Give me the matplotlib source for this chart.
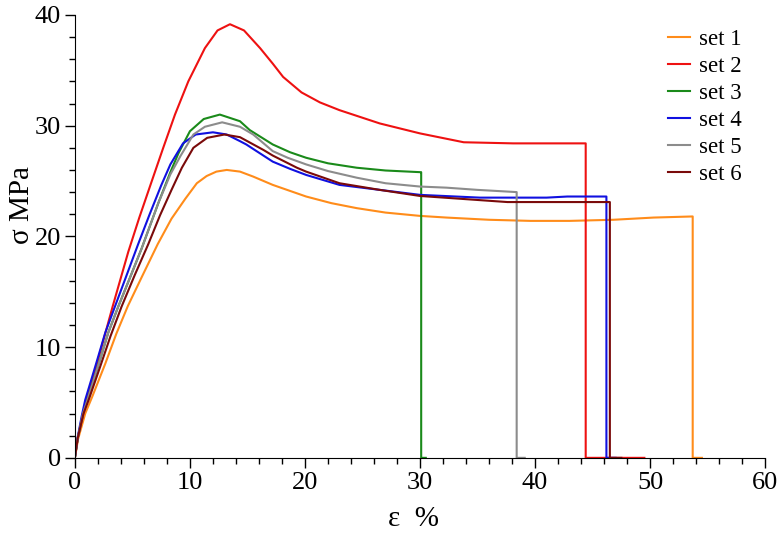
import matplotlib
matplotlib.use("Agg")
import matplotlib.pyplot as plt
from matplotlib.ticker import MultipleLocator

plt.rcParams['font.family'] = ['Liberation Serif', 'DejaVu Serif']

labels = ["set 1", "set 2", "set 3", "set 4", "set 5", "set 6"]
colors = ["#FF8C1A", "#EE1111", "#1A8A1A", "#1010E0", "#8C8C8C", "#7A0A0A"]

x1 = [0, 0.28, 0.9, 1.5, 2.64, 3.6, 4.6, 5.8, 7.2, 8.4, 9.6, 10.6, 11.45, 12.3, 13.2, 14.35, 15.5, 17.2, 20.1, 22.3, 24.5, 27.0, 30.0, 32.3, 36.0, 39.6, 43.0, 46.8, 50.3, 53.7, 53.7, 54.5]
y1 = [0, 1.7, 4.0, 5.5, 8.5, 11.2, 13.7, 16.3, 19.3, 21.6, 23.4, 24.8, 25.45, 25.85, 26.0, 25.85, 25.4, 24.65, 23.6, 23.0, 22.55, 22.15, 21.85, 21.7, 21.5, 21.4, 21.4, 21.5, 21.7, 21.8, 0, 0]

x2 = [0, 0.25, 1.0, 2.0, 3.28, 4.64, 5.6, 6.67, 7.68, 8.7, 9.86, 11.3, 12.4, 13.48, 14.7, 16.1, 17.2, 18.1, 19.7, 21.3, 23.0, 26.5, 30.0, 33.8, 38.1, 44.4, 44.4, 49.5]
y2 = [0, 1.8, 5.2, 8.8, 13.66, 18.6, 21.7, 24.95, 28.0, 31.0, 34.0, 37.0, 38.6, 39.16, 38.6, 37.0, 35.6, 34.4, 33.0, 32.1, 31.4, 30.2, 29.3, 28.5, 28.4, 28.4, 0, 0]

x3 = [0, 0.25, 0.7, 1.1, 2.0, 2.9, 3.77, 4.8, 5.8, 7.25, 8.3, 9.0, 10.0, 11.2, 12.6, 14.35, 15.2, 17.2, 18.7, 20.1, 22.0, 24.5, 27.0, 30.0, 30.1, 30.1, 30.5]
y3 = [0, 1.8, 4.0, 5.24, 8.24, 11.3, 13.66, 16.3, 18.9, 23.0, 25.8, 27.5, 29.5, 30.6, 31.0, 30.4, 29.6, 28.3, 27.6, 27.1, 26.6, 26.2, 25.95, 25.8, 25.8, 0, 0]

x4 = [0, 0.25, 0.6, 0.9, 1.77, 2.64, 3.48, 4.5, 5.5, 6.5, 7.5, 8.3, 9.4, 10.5, 12.0, 13.2, 14.35, 14.9, 17.2, 18.7, 20.1, 23.0, 26.5, 30.0, 35.2, 41.0, 42.8, 46.2, 46.2, 47.0]
y4 = [0, 1.9, 3.8, 5.24, 8.24, 11.3, 13.66, 16.5, 19.3, 22.0, 24.6, 26.5, 28.4, 29.2, 29.4, 29.2, 28.6, 28.3, 26.75, 26.1, 25.55, 24.65, 24.2, 23.75, 23.5, 23.5, 23.6, 23.6, 0, 0]

x5 = [0, 0.25, 0.7, 1.1, 2.0, 2.9, 3.77, 4.8, 5.8, 7.25, 8.3, 9.2, 10.3, 11.3, 12.8, 14.35, 15.5, 17.2, 18.5, 20.1, 22.0, 24.5, 27.0, 30.0, 32.3, 35.0, 38.4, 38.4, 39.1]
y5 = [0, 1.8, 4.0, 5.24, 8.24, 11.3, 13.66, 16.3, 18.9, 23.0, 25.6, 27.3, 29.2, 29.9, 30.3, 29.9, 29.2, 27.7, 27.1, 26.5, 25.9, 25.3, 24.8, 24.5, 24.4, 24.2, 24.0, 0, 0]

x6 = [0, 0.25, 0.75, 1.2, 2.2, 3.1, 4.06, 5.2, 6.38, 7.4, 8.4, 9.3, 10.3, 11.5, 13.0, 14.35, 16.4, 17.2, 19.3, 20.1, 23.0, 26.5, 30.0, 37.6, 46.5, 46.5, 47.5]
y6 = [0, 1.8, 4.0, 5.24, 8.24, 11.0, 13.66, 16.5, 19.3, 21.9, 24.2, 26.2, 28.0, 28.9, 29.2, 28.96, 27.8, 27.3, 26.2, 25.85, 24.8, 24.2, 23.65, 23.1, 23.1, 0, 0]

xs = [x1, x2, x3, x4, x5, x6]
ys = [y1, y2, y3, y4, y5, y6]

xticks = [0, 10, 20, 30, 40, 50, 60]
yticks = [0, 10, 20, 30, 40]

fig = plt.figure(figsize=(7.8, 5.33), dpi=100)
ax = fig.add_axes([0.096, 0.141, 0.885, 0.831])

for x, y, c, l in zip(xs, ys, colors, labels):
    ax.plot(x, y, color=c, lw=1.5, label=l, solid_joinstyle='round')

ax.set_xlim(0, 60)
ax.set_ylim(0, 40)
ax.set_xticks(xticks)
ax.set_yticks(yticks)
ax.xaxis.set_minor_locator(MultipleLocator(2))
ax.yaxis.set_minor_locator(MultipleLocator(2))
ax.tick_params(which='major', direction='out', length=7, width=1, labelsize=19, pad=3)
ax.tick_params(which='minor', direction='out', length=4, width=1)
ax.spines['top'].set_visible(False)
ax.spines['right'].set_visible(False)
ax.set_xlabel("ε  %", fontsize=21)
ax.set_ylabel("σ MPa", fontsize=21)
ax.xaxis.set_label_coords(0.49, -0.108)
ax.yaxis.set_label_coords(-0.058, 0.57)

fig.legend(*ax.get_legend_handles_labels(), loc='upper left',
           bbox_to_anchor=(668 / 780, 1 - 29 / 533), frameon=False, fontsize=16.5,
           handlelength=0.95, handletextpad=0.4, labelspacing=0.26,
           borderpad=0, borderaxespad=0)

fig.savefig("out.png", dpi=100)
